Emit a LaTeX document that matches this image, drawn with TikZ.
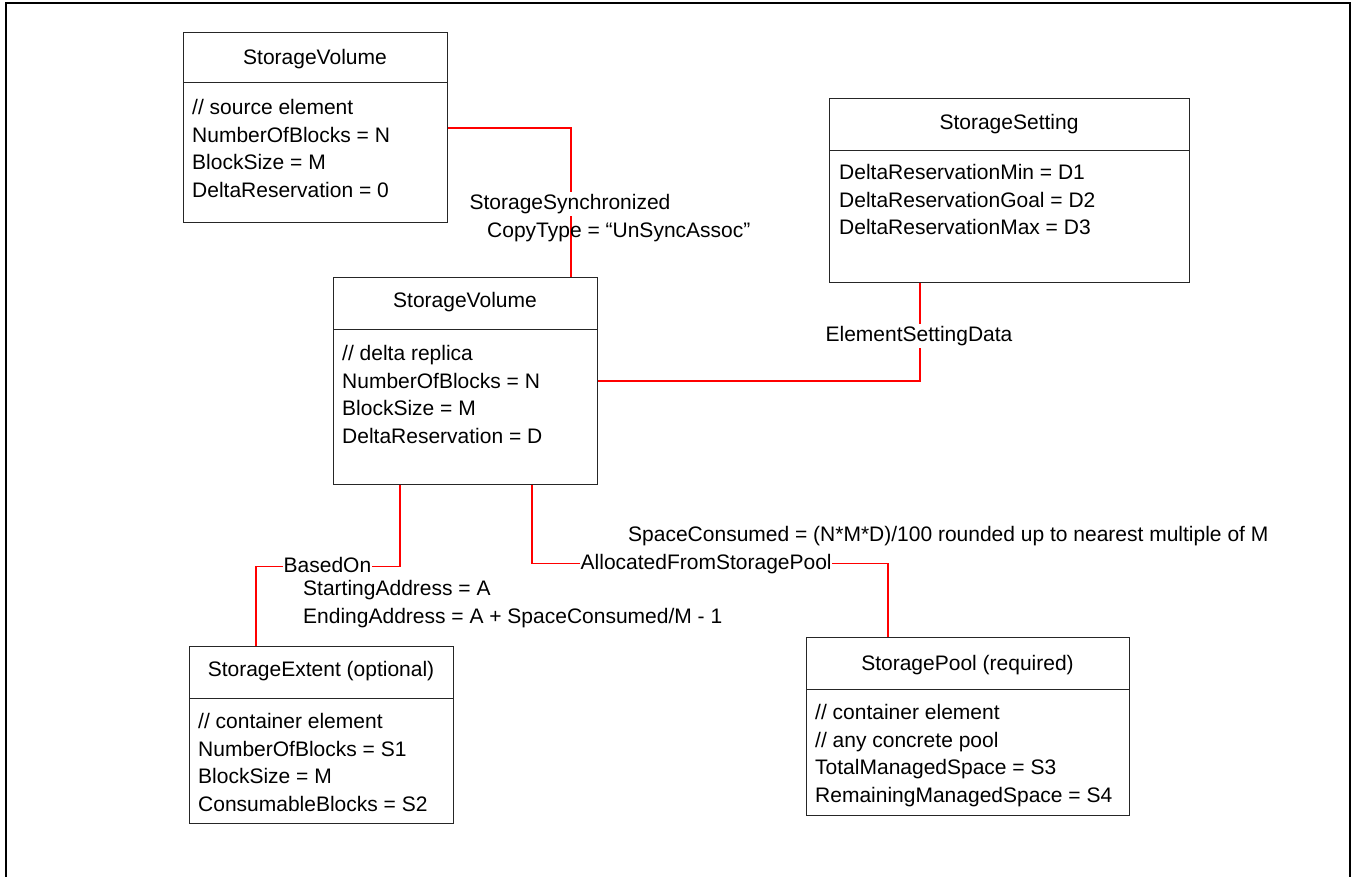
\documentclass[tikz,border=0pt]{standalone}
\usepackage{fontspec}
\setmainfont{Liberation Sans}
\begin{document}
\begin{tikzpicture}[x=1pt,y=-1pt,
  umlbox/.style={draw=black!85, line width=1pt, inner sep=0pt, anchor=north west},
  divider/.style={draw=black!85, line width=1pt},
  assoc/.style={draw={rgb,255:red,255;green,0;blue,0}, line width=1.1pt},
  txt/.style={font=\fontsize{21}{27.5}\selectfont, inner sep=0pt},
  title/.style={txt, anchor=base},
  attrs/.style={txt, anchor=north west, align=left},
  alabel/.style={txt, anchor=base west, fill=white, inner ysep=2pt, inner xsep=0.5pt},
  clabel/.style={txt, anchor=base, fill=white, inner ysep=2pt, inner xsep=1pt},
  plabel/.style={txt, anchor=north west, align=left},
  frame/.style={draw=black, line width=2.5pt}
]
\useasboundingbox (0,0) rectangle (1352,877);
\draw[frame] (6,900) -- (6,3) -- (1350,3) -- (1350,900);

% boxes
\node[umlbox, minimum width=264pt, minimum height=190pt] (b1) at (183,32) {};
\node[umlbox, minimum width=264pt, minimum height=207pt] (b2) at (333,277) {};
\node[umlbox, minimum width=360pt, minimum height=184pt] (b3) at (829,98) {};
\node[umlbox, minimum width=264pt, minimum height=177pt] (b4) at (189,646) {};
\node[umlbox, minimum width=323pt, minimum height=178pt] (b5) at (806,637) {};

\draw[divider] ([yshift=-51pt]b1.north west) -- ([yshift=-51pt]b1.north east);
\draw[divider] ([yshift=-53pt]b2.north west) -- ([yshift=-53pt]b2.north east);
\draw[divider] ([yshift=-53pt]b3.north west) -- ([yshift=-53pt]b3.north east);
\draw[divider] ([yshift=-52pt]b4.north west) -- ([yshift=-52pt]b4.north east);
\draw[divider] ([yshift=-52pt]b5.north west) -- ([yshift=-52pt]b5.north east);

% titles
\node[title] (t1) at (315,64.5) {StorageVolume};
\node[title] (t2) at (465,307.5) {StorageVolume};
\node[title] (t3) at (1009,129.5) {StorageSetting};
\node[title] (t4) at (321,676.5) {StorageExtent (optional)};
\node[title] (t5) at (967.5,670.5) {StoragePool (required)};

% attributes
\node[attrs] (a1) at (192,97.5) {\rule{0pt}{17pt}// source element\\NumberOfBlocks = N\\BlockSize = M\\DeltaReservation = 0};
\node[attrs] (a2) at (342,343.5) {\rule{0pt}{17pt}// delta replica\\NumberOfBlocks = N\\BlockSize = M\\DeltaReservation = D};
\node[attrs] (a3) at (839,162.5) {\rule{0pt}{17pt}DeltaReservationMin = D1\\DeltaReservationGoal = D2\\DeltaReservationMax = D3};
\node[attrs] (a4) at (198,711.5) {\rule{0pt}{17pt}// container element\\NumberOfBlocks = S1\\BlockSize = M\\ConsumableBlocks = S2};
\node[attrs] (a5) at (815,702.5) {\rule{0pt}{17pt}// container element\\// any concrete pool\\TotalManagedSpace = S3\\RemainingManagedSpace = S4};

% connectors
\draw[assoc] ([yshift=-0.5pt]b1.east) -| ([xshift=105.5pt]b2.north);
\draw[assoc] ([xshift=-89.5pt]b3.south) |- (b2.east);
\draw[assoc] ([xshift=-65.5pt]b2.south) -- ++(0,81.5) -| ([xshift=-65.5pt]b4.north);
\draw[assoc] ([xshift=66.5pt]b2.south) -- ++(0,78.5) -| ([xshift=-80pt]b5.north);

% connector labels
\node[clabel] (l1) at (570,209.5) {StorageSynchronized};
\node[plabel] (p1) at (487,220.5) {\rule{0pt}{17pt}CopyType = “UnSyncAssoc”};
\node[clabel] (l2) at (919,341.5) {ElementSettingData};
\node[alabel] (l3) at (283,572.5) {BasedOn};
\node[plabel] (p3) at (303,578.5) {\rule{0pt}{17pt}StartingAddress = A\\EndingAddress = A + SpaceConsumed/M - 1};
\node[alabel] (l4) at (580,569.5) {AllocatedFromStoragePool};
\node[txt, anchor=base west] (p4) at (628,541.5) {SpaceConsumed = (N*M*D)/100 rounded up to nearest multiple of M};
\end{tikzpicture}
\end{document}
